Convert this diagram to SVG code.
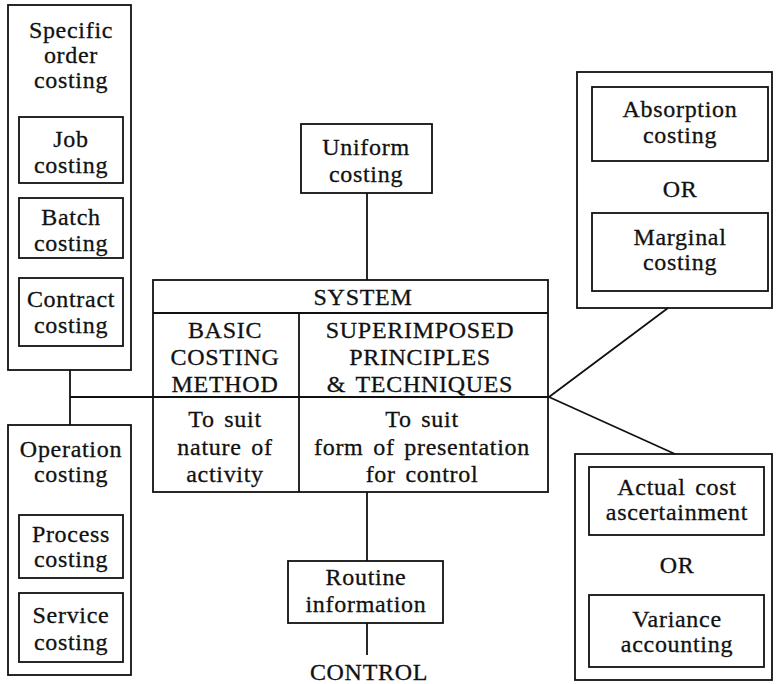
<svg xmlns="http://www.w3.org/2000/svg" width="777" height="684" viewBox="0 0 777 684">
  <style>
    .box { fill: none; stroke: #111; stroke-width: 1.8; }
    .line { fill: none; stroke: #111; stroke-width: 1.8; }
    text { font-family: "Liberation Serif", "Times New Roman", serif; font-size: 24px; fill: #111; stroke: #111; stroke-width: 0.3; text-anchor: middle; letter-spacing: 0.7px; word-spacing: 3px; }
  </style>
  <rect width="777" height="684" fill="#fff"/>

  <!-- connectors -->
  <g id="connectors">
    <line class="line" x1="367" y1="193" x2="367" y2="280"/>
    <line class="line" x1="70" y1="370" x2="70" y2="425"/>
    <line class="line" x1="70" y1="397" x2="549" y2="397"/>
    <line class="line" x1="549" y1="397" x2="668" y2="308"/>
    <line class="line" x1="549" y1="397" x2="675" y2="454"/>
    <line class="line" x1="367" y1="492" x2="367" y2="561"/>
    <line class="line" x1="367" y1="623" x2="367" y2="655"/>
  </g>

  <!-- specific order costing group -->
  <g id="specific-order">
    <rect class="box" x="8" y="5" width="123" height="365"/>
    <text x="71" y="38">Specific</text>
    <text x="71" y="63">order</text>
    <text x="71" y="88">costing</text>
  </g>
  <g id="job">
    <rect class="box" x="19" y="117" width="104" height="66"/>
    <text x="71" y="147">Job</text>
    <text x="71" y="173">costing</text>
  </g>
  <g id="batch">
    <rect class="box" x="19" y="198" width="104" height="60"/>
    <text x="71" y="225">Batch</text>
    <text x="71" y="251">costing</text>
  </g>
  <g id="contract">
    <rect class="box" x="19" y="278" width="104" height="68"/>
    <text x="71" y="307">Contract</text>
    <text x="71" y="333">costing</text>
  </g>

  <!-- operation costing group -->
  <g id="operation">
    <rect class="box" x="8" y="425" width="123" height="250"/>
    <text x="71" y="457">Operation</text>
    <text x="71" y="482">costing</text>
  </g>
  <g id="process">
    <rect class="box" x="19" y="515" width="104" height="63"/>
    <text x="71" y="542">Process</text>
    <text x="71" y="567">costing</text>
  </g>
  <g id="service">
    <rect class="box" x="19" y="593" width="104" height="69"/>
    <text x="71" y="623">Service</text>
    <text x="71" y="650">costing</text>
  </g>

  <!-- uniform costing -->
  <g id="uniform">
    <rect class="box" x="301" y="124" width="131" height="69"/>
    <text x="366" y="155">Uniform</text>
    <text x="366" y="182">costing</text>
  </g>

  <!-- central system table -->
  <g id="system">
    <rect class="box" x="153" y="280" width="395" height="212"/>
    <line class="line" x1="153" y1="313" x2="548" y2="313"/>
    <line class="line" x1="299" y1="313" x2="299" y2="492"/>
    <text x="363" y="305">SYSTEM</text>
    <text x="225" y="338">BASIC</text>
    <text x="225" y="365">COSTING</text>
    <text x="225" y="392">METHOD</text>
    <text x="420" y="338">SUPERIMPOSED</text>
    <text x="420" y="365">PRINCIPLES</text>
    <text x="420" y="392">&amp; TECHNIQUES</text>
    <text x="225" y="427">To suit</text>
    <text x="225" y="455">nature of</text>
    <text x="225" y="482">activity</text>
    <text x="422" y="427">To suit</text>
    <text x="422" y="455">form of presentation</text>
    <text x="422" y="482">for control</text>
  </g>

  <!-- absorption / marginal -->
  <g id="absorption-marginal">
    <rect class="box" x="577" y="72" width="195" height="236"/>
    <text x="680" y="197">OR</text>
  </g>
  <g id="absorption">
    <rect class="box" x="592" y="87" width="176" height="74"/>
    <text x="680" y="117">Absorption</text>
    <text x="680" y="143">costing</text>
  </g>
  <g id="marginal">
    <rect class="box" x="592" y="213" width="176" height="78"/>
    <text x="680" y="245">Marginal</text>
    <text x="680" y="270">costing</text>
  </g>

  <!-- actual / variance -->
  <g id="actual-variance">
    <rect class="box" x="575" y="454" width="197" height="226"/>
    <text x="677" y="573">OR</text>
  </g>
  <g id="actual">
    <rect class="box" x="589" y="467" width="175" height="68"/>
    <text x="677" y="495">Actual cost</text>
    <text x="677" y="520">ascertainment</text>
  </g>
  <g id="variance">
    <rect class="box" x="589" y="595" width="175" height="72"/>
    <text x="677" y="627">Variance</text>
    <text x="677" y="652">accounting</text>
  </g>

  <!-- routine information -->
  <g id="routine">
    <rect class="box" x="288" y="561" width="155" height="62"/>
    <text x="366" y="585">Routine</text>
    <text x="366" y="612">information</text>
  </g>
  <g id="control">
    <text x="369" y="680">CONTROL</text>
  </g>
</svg>
